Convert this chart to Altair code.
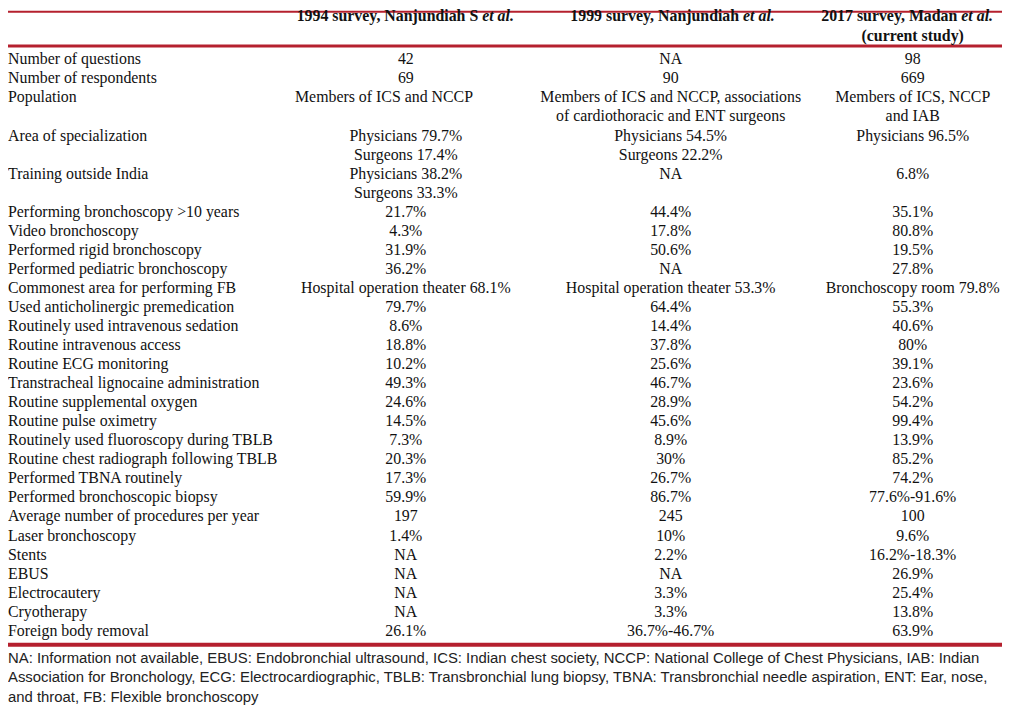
import altair as alt
import pandas as pd

# ---------------- data ----------------
row_labels = [
    "Number of questions", "Number of respondents", "Population",
    "Area of specialization", "Training outside India",
    "Performing bronchoscopy >10 years", "Video bronchoscopy",
    "Performed rigid bronchoscopy", "Performed pediatric bronchoscopy",
    "Commonest area for performing FB", "Used anticholinergic premedication",
    "Routinely used intravenous sedation", "Routine intravenous access",
    "Routine ECG monitoring", "Transtracheal lignocaine administration",
    "Routine supplemental oxygen", "Routine pulse oximetry",
    "Routinely used fluoroscopy during TBLB",
    "Routine chest radiograph following TBLB", "Performed TBNA routinely",
    "Performed bronchoscopic biopsy", "Average number of procedures per year",
    "Laser bronchoscopy", "Stents", "EBUS", "Electrocautery", "Cryotherapy",
    "Foreign body removal",
]

survey_1994 = [
    "42", "69", "Members of ICS and NCCP",
    "Physicians 79.7%|Surgeons 17.4%", "Physicians 38.2%|Surgeons 33.3%",
    "21.7%", "4.3%", "31.9%", "36.2%", "Hospital operation theater 68.1%",
    "79.7%", "8.6%", "18.8%", "10.2%", "49.3%", "24.6%", "14.5%", "7.3%",
    "20.3%", "17.3%", "59.9%", "197", "1.4%", "NA", "NA", "NA", "NA", "26.1%",
]

survey_1999 = [
    "NA", "90",
    "Members of ICS and NCCP, associations|of cardiothoracic and ENT surgeons",
    "Physicians 54.5%|Surgeons 22.2%", "NA",
    "44.4%", "17.8%", "50.6%", "NA", "Hospital operation theater 53.3%",
    "64.4%", "14.4%", "37.8%", "25.6%", "46.7%", "28.9%", "45.6%", "8.9%",
    "30%", "26.7%", "86.7%", "245", "10%", "2.2%", "NA", "3.3%", "3.3%",
    "36.7%-46.7%",
]

survey_2017 = [
    "98", "669", "Members of ICS, NCCP|and IAB", "Physicians 96.5%", "6.8%",
    "35.1%", "80.8%", "19.5%", "27.8%", "Bronchoscopy room 79.8%",
    "55.3%", "40.6%", "80%", "39.1%", "23.6%", "54.2%", "99.4%", "13.9%",
    "85.2%", "74.2%", "77.6%-91.6%", "100", "9.6%", "16.2%-18.3%", "26.9%",
    "25.4%", "13.8%", "63.9%",
]

header_main = ["1994 survey, Nanjundiah S", "1999 survey, Nanjundiah", "2017 survey, Madan"]
header_italic = ["et al.", "et al.", "et al."]
header_second = ["", "", "(current study)"]

footnote_lines = [
    "NA: Information not available, EBUS: Endobronchial ultrasound, ICS: Indian chest society, NCCP: National College of Chest Physicians, IAB: Indian",
    "Association for Bronchology, ECG: Electrocardiographic, TBLB: Transbronchial lung biopsy, TBNA: Transbronchial needle aspiration, ENT: Ear, nose,",
    "and throat, FB: Flexible bronchoscopy",
]

# ---------------- layout (pixels) ----------------
W, H = 1002, 699          # chart size (page has 8px margin)
OFF = 8                   # page offset
COL_X = [1, 409, 676, 920]        # column anchors (label left edge, then centers)
SPLIT_X = [486, 749, 969]         # where the italic "et al." begins
CELL_NUDGE = {(2, 0): -22}        # (row, column) horizontal nudge seen in the original
ROW0, PITCH = 57, 19.2            # first body line and line pitch
HEAD_Y = [13, 33]
FOOT_Y = [660, 680, 700]
RED = "#b5202e"
INK = "#111111"
SERIF = "Liberation Serif"
SANS = "Liberation Sans"


def cx(v):
    return max(v - OFF, 0)


def cy(v):
    return v - OFF


# body cells
label_rows, cell_rows = [], []
line = 0
for i, lab in enumerate(row_labels):
    cells = [survey_1994[i], survey_1999[i], survey_2017[i]]
    split = [c.split("|") for c in cells]
    n = max(len(s) for s in split)
    label_rows.append({"t": lab, "x": cx(COL_X[0]), "y": cy(ROW0 + PITCH * line)})
    for j, parts in enumerate(split):
        for k, p in enumerate(parts):
            cell_rows.append({"t": p, "x": cx(COL_X[j + 1] + CELL_NUDGE.get((i, j), 0)),
                              "y": cy(ROW0 + PITCH * (line + k))})
    line += n

labels_df = pd.DataFrame(label_rows)
cells_df = pd.DataFrame(cell_rows)

head_bold = pd.DataFrame([{"t": header_main[j], "x": cx(SPLIT_X[j] - 4), "y": cy(HEAD_Y[0])}
                          for j in range(3)])
head_it = pd.DataFrame([{"t": header_italic[j], "x": cx(SPLIT_X[j]), "y": cy(HEAD_Y[0])}
                        for j in range(3)])
head_2 = pd.DataFrame([{"t": header_second[j], "x": cx(COL_X[j + 1]), "y": cy(HEAD_Y[1])}
                       for j in range(3) if header_second[j]])
foot_df = pd.DataFrame([{"t": s, "x": 0, "y": cy(FOOT_Y[k])}
                        for k, s in enumerate(footnote_lines)])

rules_df = pd.DataFrame([
    {"x": 0, "x2": W, "y": 1.0, "w": 2},
    {"x": 0, "x2": W, "y": cy(43.5), "w": 3},
    {"x": 0, "x2": W, "y": cy(647), "w": 4},
])

X = alt.X("x:Q", scale=alt.Scale(domain=[0, W], nice=False, zero=False), axis=None)
Y = alt.Y("y:Q", scale=alt.Scale(domain=[0, H], nice=False, zero=False, reverse=True), axis=None)


def text_layer(df, align, font, weight="normal", style="normal", size=16, color=INK):
    return alt.Chart(df).mark_text(
        align=align, baseline="middle", font=font, fontSize=size,
        fontWeight=weight, fontStyle=style, color=color,
    ).encode(x=X, y=Y, text="t:N")


rules = alt.Chart(rules_df).mark_rule(color=RED).encode(
    x=X, x2="x2:Q", y=Y, strokeWidth=alt.StrokeWidth("w:Q", scale=None, legend=None)
)

chart = alt.layer(
    rules,
    text_layer(labels_df, "left", SERIF),
    text_layer(cells_df, "center", SERIF),
    text_layer(head_bold, "right", SERIF, weight="bold"),
    text_layer(head_it, "left", SERIF, weight="bold", style="italic"),
    text_layer(head_2, "center", SERIF, weight="bold"),
    text_layer(foot_df, "left", SANS, size=15, color="#222222"),
).properties(
    width=W, height=H, autosize=alt.AutoSizeParams(type="none"), padding=0,
    background="white",
).configure_view(stroke=None)

chart.save("out.html", embed_options={"renderer": "svg", "actions": False})
